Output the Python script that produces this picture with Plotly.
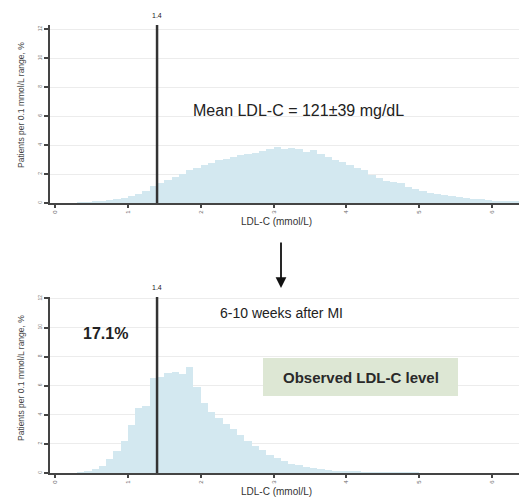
import plotly.graph_objects as go

# ---------------- data ----------------
BIN_WIDTH = 0.1
bin_start = [round(i * BIN_WIDTH, 1) for i in range(65)]  # 0.0 ... 6.4 mmol/L

baseline_pct = [0, 0, 0, 0.02, 0.05, 0.08, 0.12, 0.18, 0.25, 0.35,
                0.45, 0.6, 0.8, 1.15, 1.4, 1.6, 1.8, 2.0, 2.3, 2.45,
                2.6, 2.75, 2.95, 3.05, 3.2, 3.3, 3.4, 3.45, 3.6, 3.75,
                3.9, 3.7, 3.8, 3.75, 3.55, 3.65, 3.4, 3.15, 3.0, 2.8,
                2.65, 2.45, 2.3, 1.95, 1.75, 1.55, 1.45, 1.35, 1.1, 0.95,
                0.8, 0.72, 0.65, 0.55, 0.48, 0.4, 0.35, 0.3, 0.25, 0.2,
                0.17, 0.14, 0.1, 0.08, 0.05]

after_mi_pct = [0, 0, 0, 0.03, 0.1, 0.25, 0.5, 0.95, 1.5, 2.2,
                3.3, 4.5, 4.6, 6.5, 6.6, 6.85, 6.95, 6.8, 7.3, 5.9,
                4.8, 4.2, 3.8, 3.4, 3.0, 2.6, 2.2, 1.85, 1.55, 1.25,
                1.0, 0.8, 0.65, 0.55, 0.42, 0.35, 0.28, 0.22, 0.15, 0.12,
                0.1, 0.08, 0.06, 0.05, 0.04, 0.03, 0.02, 0.02, 0.01, 0.01,
                0, 0, 0, 0, 0, 0, 0, 0, 0, 0,
                0, 0, 0, 0, 0]

x_ticks = [0, 1, 2, 3, 4, 5, 6]
y_ticks = [0, 2, 4, 6, 8, 10, 12]
threshold = 1.4

x_title = "LDL-C (mmol/L)"
y_title = "Patients per 0.1 mmol/L range, %"
mean_text = "Mean LDL-C = 121±39 mg/dL"
after_text = "6-10 weeks after MI"
pct_text = "17.1%"
box_text = "Observed LDL-C level"

# ---------------- figure ----------------
W, H = 519, 501
BAR_COLOR = "#d3e8f0"
AXIS_COLOR = "#444444"
GRID_COLOR = "#ececec"

centers = [b + BIN_WIDTH / 2 for b in bin_start]

fig = go.Figure()
fig.add_trace(go.Bar(x=centers, y=baseline_pct, width=BIN_WIDTH,
                     marker=dict(color=BAR_COLOR, line=dict(width=0)),
                     xaxis="x", yaxis="y", showlegend=False, hoverinfo="skip"))
fig.add_trace(go.Bar(x=centers, y=after_mi_pct, width=BIN_WIDTH,
                     marker=dict(color=BAR_COLOR, line=dict(width=0)),
                     xaxis="x2", yaxis="y2", showlegend=False, hoverinfo="skip"))

def px_x(p):
    return p / W

def px_y(p):
    return 1 - p / H

xcommon = dict(range=[-0.07, 6.37], tickvals=x_ticks, ticks="outside", ticklen=3,
               tickcolor=AXIS_COLOR, tickwidth=1.5, showline=True, linecolor=AXIS_COLOR,
               linewidth=2, showgrid=False, zeroline=False, automargin=False,
               tickangle=-90,
               tickfont=dict(size=6, color="#666666", family="Arial"), domain=[px_x(50), 1])
ycommon = dict(tickvals=y_ticks, ticks="outside", ticklen=4, tickcolor=AXIS_COLOR,
               tickwidth=1.5, showline=True, linecolor=AXIS_COLOR, linewidth=2,
               showgrid=True, gridcolor=GRID_COLOR, gridwidth=1, zeroline=False,
               automargin=False, tickangle=-90,
               tickfont=dict(size=5, color="#777777", family="Arial"))

fig.update_layout(
    width=W, height=H, margin=dict(l=0, r=0, t=0, b=0, autoexpand=False),
    paper_bgcolor="white", plot_bgcolor="white", bargap=0,
    xaxis=dict(anchor="y", **xcommon),
    yaxis=dict(anchor="x", range=[0, 12.3], domain=[px_y(203), px_y(25)], **ycommon),
    xaxis2=dict(anchor="y2", **xcommon),
    yaxis2=dict(anchor="x2", range=[0, 12.1], domain=[px_y(473), px_y(297)], **ycommon),
    font=dict(family="Arial", color="#222222"),
)

# threshold lines
for xr, yr in (("x", "y domain"), ("x2", "y2 domain")):
    fig.add_shape(type="line", xref=xr, yref=yr, x0=threshold, x1=threshold, y0=0, y1=1,
                  line=dict(color="#333333", width=2.5))

# green box
fig.add_shape(type="rect", xref="paper", yref="paper",
              x0=px_x(263), x1=px_x(458), y0=px_y(396), y1=px_y(358),
              fillcolor="#dde7d4", line=dict(width=0), layer="above")

ann = []
def add(text, x, y, size, bold=False, color="#222222", angle=0, xref="paper"):
    ann.append(dict(text=f"<b>{text}</b>" if bold else text, x=x, y=y, xref=xref, yref="paper",
                    showarrow=False, xanchor="center", yanchor="middle", textangle=angle,
                    font=dict(size=size, color=color, family="Arial")))

add(str(threshold), threshold, px_y(15), 7, xref="x")
add(str(threshold), threshold, px_y(287), 7, xref="x2")
add(x_title, px_x(276), px_y(222), 10, color="#333333")
add(x_title, px_x(276), px_y(491), 10, color="#333333")
add(y_title, px_x(21), px_y(105), 8.5, color="#444444", angle=-90)
add(y_title, px_x(21), px_y(378), 8.5, color="#444444", angle=-90)
add(mean_text, px_x(298), px_y(110), 16)
add(after_text, px_x(281), px_y(313), 14)
add(pct_text, px_x(105), px_y(333), 16, bold=True)
add(box_text, px_x(361), px_y(377), 15, bold=True, color="#2a2a2a")

# arrow between panels
ann.append(dict(text="", x=px_x(281), y=px_y(288), xref="paper", yref="paper",
                ax=0, ay=-47, axref="pixel", ayref="pixel",
                showarrow=True, arrowhead=2, arrowsize=1.2, arrowwidth=1.8, arrowcolor="#111111"))

fig.update_layout(annotations=ann)

fig.write_html("out.html", config={"displayModeBar": False},
               post_script="document.body.style.margin='0px';")
